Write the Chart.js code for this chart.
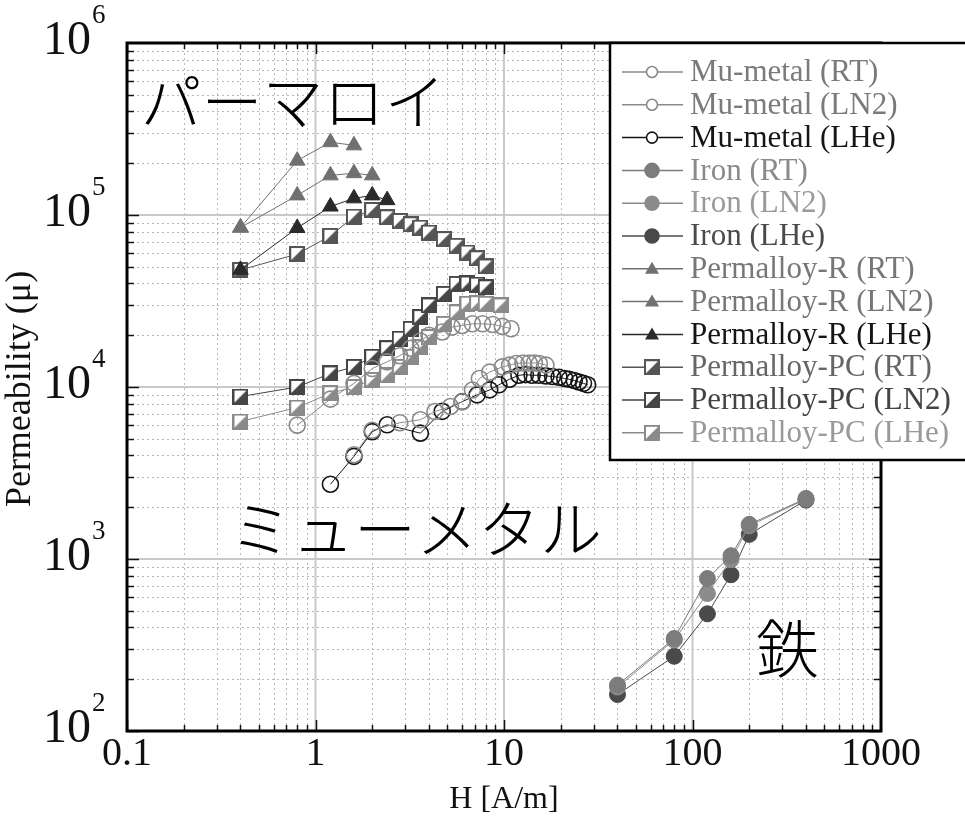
<!DOCTYPE html>
<html>
<head>
<meta charset="utf-8">
<script src="https://cdn.jsdelivr.net/npm/chart.js@4.4.0/dist/chart.umd.min.js"></script>
<style>
html, body { margin: 0; padding: 0; background: #fff; }
#wrap { width: 965px; height: 823px; }
</style>
</head>
<body>
<div id="wrap"><canvas id="chart" width="965" height="823"></canvas></div>
<script>
// axis ticks
const xTickValues = [0.1, 1, 10, 100, 1000];
const xTickLabels = ['0.1', '1', '10', '100', '1000'];
const yTickValues = [100, 1000, 10000, 100000, 1000000];
const yTickExps = ['2', '3', '4', '5', '6'];

// Mu-metal
const hMuRT = [0.8, 1.2, 1.6, 2.0, 2.4, 2.8, 3.2, 3.6, 4.0, 4.7, 5.3, 6.0, 6.8, 7.7, 8.7, 9.8, 10.9];
const muMuRT = [6000, 8500, 10500, 12800, 14000, 15200, 16800, 18500, 20000, 20900, 22300, 22800, 23300, 23300, 23100, 22500, 21800];
const hMuLN2 = [1.6, 2.0, 2.8, 3.6, 4.3, 5.2, 6.0, 6.8, 7.4, 8.4, 9.8, 10.7, 11.6, 12.6, 13.6, 14.5, 15.4, 16.7];
const muMuLN2 = [4040, 5600, 6200, 6450, 7200, 7700, 8200, 9600, 11200, 12200, 13100, 13400, 13700, 13800, 13800, 13800, 13700, 13400];
const hMuLHe = [1.2, 1.6, 2.0, 2.4, 3.6, 4.7, 6.0, 7.2, 8.4, 9.4, 10.7, 12.0, 13.0, 14.1, 15.3, 16.7, 18.1, 19.6, 21.0, 22.2, 23.6, 25.0, 26.4, 27.8];
const muMuLHe = [2720, 3950, 5500, 6030, 5390, 7220, 8220, 9000, 9620, 10300, 11100, 11700, 11800, 11700, 11700, 11600, 11500, 11400, 11200, 11100, 10900, 10700, 10500, 10300];

// Iron
const hIron = [40, 80, 120, 160, 200, 400];
const muIronRT = [185, 345, 770, 1045, 1590, 2250];
const muIronLN2 = [180, 338, 630, 990, 1560, 2230];
const muIronLHe = [163, 272, 480, 810, 1390, 2200];

// Permalloy-R
const hPermRRT = [0.4, 0.8, 1.2, 1.6];
const muPermRRT = [84500, 207000, 265000, 254000];
const hPermRLN2 = [0.4, 0.8, 1.2, 1.6, 2.0];
const muPermRLN2 = [84500, 130000, 170000, 175000, 170000];
const hPermRLHe = [0.4, 0.8, 1.2, 1.6, 2.0, 2.4];
const muPermRLHe = [48000, 84000, 112000, 125000, 130000, 122000];

// Permalloy-PC
const hPermPC = [0.4, 0.8, 1.2, 1.6, 2.0, 2.4, 2.8, 3.2, 3.6, 4.0, 4.8, 5.6, 6.4, 7.2, 8.0];
const muPermPCRT = [47900, 59300, 75600, 98000, 107000, 97000, 92300, 88300, 84500, 79000, 72400, 66200, 60500, 56000, 50200];
const muPermPCLN2 = [8800, 10000, 12000, 13100, 15000, 16800, 19100, 21800, 25500, 29800, 34800, 39800, 40000, 39400, 38000];
const hPermPCLHe = [0.4, 0.8, 1.2, 1.6, 2.0, 2.4, 2.8, 3.2, 3.6, 4.0, 4.8, 5.6, 6.4, 7.2, 8.0, 9.6];
const muPermPCLHe = [6300, 7600, 9200, 10000, 11000, 11700, 13100, 15000, 17000, 19500, 23300, 27200, 30500, 30700, 30500, 29800];

function pts(hs, mus) {
    return hs.map((h, i) => ({ x: h, y: mus[i] }));
}

// square with white upper-left half, filled lower-right half
function halfSquare(fill, size) {
    const c = document.createElement('canvas');
    c.width = size;
    c.height = size;
    const g = c.getContext('2d');
    g.fillStyle = '#fff';
    g.fillRect(0, 0, size, size);
    g.fillStyle = fill;
    g.beginPath();
    g.moveTo(size, 0);
    g.lineTo(size, size);
    g.lineTo(0, size);
    g.closePath();
    g.fill();
    g.strokeStyle = fill;
    g.lineWidth = 2;
    g.strokeRect(1, 1, size - 2, size - 2);
    return c;
}

function series(label, data, color, style, filled, textColor) {
    return {
        label: label,
        data: data,
        showLine: true,
        borderColor: color,
        borderWidth: 1,
        pointStyle: style,
        pointRadius: style === 'triangle' ? 9 : 8,
        pointBorderWidth: filled ? 1 : 1.6,
        pointBorderColor: color,
        pointBackgroundColor: filled ? color : 'rgba(255,255,255,0)',
        textColor: textColor
    };
}

const datasets = [
    series('Mu-metal (RT)', pts(hMuRT, muMuRT), '#8a8a8a', 'circle', false, '#7a7a7a'),
    series('Mu-metal (LN2)', pts(hMuLN2, muMuLN2), '#8a8a8a', 'circle', false, '#7a7a7a'),
    series('Mu-metal (LHe)', pts(hMuLHe, muMuLHe), '#151515', 'circle', false, '#151515'),
    series('Iron (RT)', pts(hIron, muIronRT), '#7c7c7c', 'circle', true, '#8a8a8a'),
    series('Iron (LN2)', pts(hIron, muIronLN2), '#8c8c8c', 'circle', true, '#9a9a9a'),
    series('Iron (LHe)', pts(hIron, muIronLHe), '#4a4a4a', 'circle', true, '#4a4a4a'),
    series('Permalloy-R (RT)', pts(hPermRRT, muPermRRT), '#707070', 'triangle', true, '#777777'),
    series('Permalloy-R (LN2)', pts(hPermRLN2, muPermRLN2), '#707070', 'triangle', true, '#777777'),
    series('Permalloy-R (LHe)', pts(hPermRLHe, muPermRLHe), '#2a2a2a', 'triangle', true, '#151515'),
    series('Permalloy-PC (RT)', pts(hPermPC, muPermPCRT), '#555555', halfSquare('#555555', 16), true, '#666666'),
    series('Permalloy-PC (LN2)', pts(hPermPC, muPermPCLN2), '#454545', halfSquare('#454545', 16), true, '#444444'),
    series('Permalloy-PC (LHe)', pts(hPermPCLHe, muPermPCLHe), '#8a8a8a', halfSquare('#8a8a8a', 16), true, '#999999')
];

const notes = [
    { text: 'パーマロイ', h: 0.118, mu: 456000, size: 61 },
    { text: 'ミューメタル', h: 0.352, mu: 1490, size: 62 },
    { text: '鉄', h: 217, mu: 302, size: 63 }
];

const serif = '"Liberation Serif", "Times New Roman", serif';

const frame = {
    id: 'frame',
    beforeDatasetsDraw(chart) {
        const ctx = chart.ctx;
        const a = chart.chartArea;
        const x = chart.scales.x;
        const y = chart.scales.y;
        ctx.save();
        // minor grid (dotted)
        ctx.strokeStyle = '#b8b8b8';
        ctx.lineWidth = 1;
        ctx.setLineDash([2, 3]);
        for (let e = -1; e < 3; e++) {
            for (let k = 2; k <= 9; k++) {
                const px = Math.round(x.getPixelForValue(k * Math.pow(10, e))) + 0.5;
                ctx.beginPath(); ctx.moveTo(px, a.top); ctx.lineTo(px, a.bottom); ctx.stroke();
            }
        }
        for (let e = 2; e < 6; e++) {
            for (let k = 2; k <= 9; k++) {
                const py = Math.round(y.getPixelForValue(k * Math.pow(10, e))) + 0.5;
                ctx.beginPath(); ctx.moveTo(a.left, py); ctx.lineTo(a.right, py); ctx.stroke();
            }
        }
        // major grid (solid)
        ctx.setLineDash([]);
        ctx.strokeStyle = '#c8c8c8';
        ctx.lineWidth = 2;
        xTickValues.forEach(v => {
            const px = x.getPixelForValue(v);
            ctx.beginPath(); ctx.moveTo(px, a.top); ctx.lineTo(px, a.bottom); ctx.stroke();
        });
        yTickValues.forEach(v => {
            const py = y.getPixelForValue(v);
            ctx.beginPath(); ctx.moveTo(a.left, py); ctx.lineTo(a.right, py); ctx.stroke();
        });
        // tick marks, inward on all four sides
        ctx.strokeStyle = '#111';
        ctx.lineWidth = 1.5;
        for (let e = -1; e < 3; e++) {
            for (let k = 1; k <= 9; k++) {
                const px = Math.round(x.getPixelForValue(k * Math.pow(10, e))) + 0.5;
                const len = k === 1 ? 11 : 6;
                ctx.beginPath(); ctx.moveTo(px, a.bottom); ctx.lineTo(px, a.bottom - len); ctx.stroke();
                ctx.beginPath(); ctx.moveTo(px, a.top); ctx.lineTo(px, a.top + len); ctx.stroke();
            }
        }
        for (let e = 2; e < 6; e++) {
            for (let k = 1; k <= 9; k++) {
                const py = Math.round(y.getPixelForValue(k * Math.pow(10, e))) + 0.5;
                const len = k === 1 ? 12 : 7;
                ctx.beginPath(); ctx.moveTo(a.left, py); ctx.lineTo(a.left + len, py); ctx.stroke();
                ctx.beginPath(); ctx.moveTo(a.right, py); ctx.lineTo(a.right - len, py); ctx.stroke();
            }
        }
        // frame
        ctx.lineWidth = 3;
        ctx.strokeStyle = '#000';
        ctx.strokeRect(a.left, a.top, a.right - a.left, a.bottom - a.top);
        ctx.restore();
    },
    afterDatasetsDraw(chart) {
        const ctx = chart.ctx;
        const a = chart.chartArea;
        const x = chart.scales.x;
        const y = chart.scales.y;
        ctx.save();

        // Japanese annotations
        ctx.fillStyle = '#000';
        ctx.textBaseline = 'middle';
        ctx.textAlign = 'left';
        notes.forEach(n => {
            ctx.font = '300 ' + n.size + 'px "Noto Sans CJK JP", sans-serif';
            ctx.fillText(n.text, x.getPixelForValue(n.h), y.getPixelForValue(n.mu));
        });

        // legend box
        const lx = 610, ly = 43, lh = 417;
        ctx.fillStyle = '#fff';
        ctx.fillRect(lx, ly, 380, lh);
        ctx.strokeStyle = '#000';
        ctx.lineWidth = 2.5;
        ctx.strokeRect(lx, ly, 380, lh);
        chart.data.datasets.forEach((ds, i) => {
            const cy = 72 + i * 32.8;
            ctx.strokeStyle = ds.borderColor;
            ctx.lineWidth = 1.5;
            ctx.beginPath(); ctx.moveTo(622, cy); ctx.lineTo(683, cy); ctx.stroke();
            const mx = 652;
            if (ds.pointStyle === 'circle') {
                const solid = ds.pointBackgroundColor === ds.borderColor;
                ctx.beginPath();
                ctx.arc(mx, cy, solid ? 7 : 5.5, 0, Math.PI * 2);
                ctx.fillStyle = solid ? ds.borderColor : '#fff';
                ctx.fill();
                ctx.lineWidth = 1.6;
                ctx.stroke();
            } else if (ds.pointStyle === 'triangle') {
                ctx.beginPath();
                ctx.moveTo(mx, cy - 7);
                ctx.lineTo(mx + 7, cy + 5);
                ctx.lineTo(mx - 7, cy + 5);
                ctx.closePath();
                ctx.fillStyle = ds.borderColor;
                ctx.fill();
            } else {
                ctx.drawImage(ds.pointStyle, mx - 8, cy - 8, 16, 16);
            }
            ctx.fillStyle = ds.textColor;
            ctx.font = '31px ' + serif;
            ctx.textAlign = 'left';
            ctx.textBaseline = 'middle';
            ctx.fillText(ds.label, 690, cy + 1);
        });

        // x tick labels
        ctx.fillStyle = '#111';
        ctx.font = '40px ' + serif;
        ctx.textAlign = 'center';
        ctx.textBaseline = 'middle';
        xTickValues.forEach((v, i) => {
            ctx.fillText(xTickLabels[i], x.getPixelForValue(v), 754);
        });
        // y tick labels: 10 with superscript exponent
        yTickValues.forEach((v, i) => {
            const py = y.getPixelForValue(v);
            ctx.font = '48px ' + serif;
            ctx.textAlign = 'right';
            ctx.fillText('10', 91, py - 2);
            ctx.font = '27px ' + serif;
            ctx.textAlign = 'left';
            ctx.fillText(yTickExps[i], 92, py - 27);
        });

        // axis titles
        ctx.font = '32px ' + serif;
        ctx.textAlign = 'center';
        ctx.fillText('H [A/m]', (a.left + a.right) / 2, 800);
        ctx.translate(21, (a.top + a.bottom) / 2 + 2);
        ctx.rotate(-Math.PI / 2);
        ctx.font = '36px ' + serif;
        ctx.fillText('Permeability (\u03bc)', 0, 0);
        ctx.restore();
    }
};

new Chart(document.getElementById('chart'), {
    type: 'scatter',
    data: { datasets: datasets },
    options: {
        responsive: false,
        animation: false,
        layout: { padding: { left: 127, top: 43, right: 84, bottom: 92 } },
        plugins: {
            legend: { display: false },
            tooltip: { enabled: false }
        },
        scales: {
            x: { type: 'logarithmic', min: 0.1, max: 1000, display: false },
            y: { type: 'logarithmic', min: 100, max: 1000000, display: false }
        }
    },
    plugins: [frame]
});
</script>
</body>
</html>
